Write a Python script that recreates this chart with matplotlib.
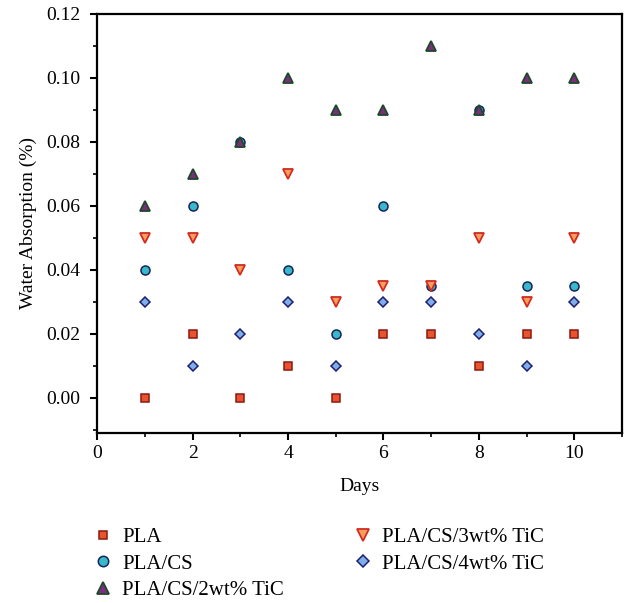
import matplotlib.pyplot as plt
from matplotlib.ticker import MultipleLocator
import numpy as np

plt.rcParams['font.family'] = ['Liberation Serif', 'DejaVu Serif']

# Data
days = [1, 2, 3, 4, 5, 6, 7, 8, 9, 10]
pla = [0.0, 0.02, 0.0, 0.01, 0.0, 0.02, 0.02, 0.01, 0.02, 0.02]
pla_cs = [0.04, 0.06, 0.08, 0.04, 0.02, 0.06, 0.035, 0.09, 0.035, 0.035]
pla_cs_2 = [0.06, 0.07, 0.08, 0.10, 0.09, 0.09, 0.11, 0.09, 0.10, 0.10]
pla_cs_3 = [0.05, 0.05, 0.04, 0.07, 0.03, 0.035, 0.035, 0.05, 0.03, 0.05]
pla_cs_4 = [0.03, 0.01, 0.02, 0.03, 0.01, 0.03, 0.03, 0.02, 0.01, 0.03]

fig = plt.figure(figsize=(6.27, 6.03), dpi=100)
ax = fig.add_axes([0.155, 0.282, 0.837, 0.695])

ax.plot(days, pla, 's', color='#e8552c', mec='#8b1a12', mew=1.1, ms=5.5, label='PLA', ls='none')
ax.plot(days, pla_cs, 'o', color='#3bb8c8', mec='#15245e', mew=1.1, ms=6.5, label='PLA/CS', ls='none')
ax.plot(days, pla_cs_3, 'v', color='#f5a05a', mec='#d42a22', mew=1.3, ms=7.5, label='PLA/CS/3wt% TiC', ls='none')
ax.plot(days, pla_cs_4, 'D', color='#80aee6', mec='#1e1e72', mew=1.1, ms=5.5, label='PLA/CS/4wt% TiC', ls='none')
ax.plot(days, pla_cs_2, '^', color='#7c2d7e', mec='#1c4a28', mew=1.3, ms=7.5, label='PLA/CS/2wt% TiC', ls='none')

ax.set_xlim(0, 11)
ax.set_ylim(-0.011, 0.12)
ax.xaxis.set_major_locator(MultipleLocator(2))
ax.xaxis.set_minor_locator(MultipleLocator(1))
ax.yaxis.set_major_locator(MultipleLocator(0.02))
ax.yaxis.set_minor_locator(MultipleLocator(0.01))
ax.yaxis.set_major_formatter(plt.FormatStrFormatter('%.2f'))
ax.tick_params(which='major', direction='out', length=5, width=1.5, labelsize=14)
ax.tick_params(axis='y', which='major', pad=7)
ax.tick_params(which='minor', direction='out', length=3, width=1.2)
for s in ax.spines.values():
    s.set_linewidth(1.6)

ax.set_xlabel('Days', fontsize=14, labelpad=12)
ax.set_ylabel('Water Absorption (%)', fontsize=14, labelpad=7)

h, l = ax.get_legend_handles_labels()
order = [0, 1, 4, 2, 3]
fig.legend([h[i] for i in order], [l[i] for i in order], loc='upper left',
           bbox_to_anchor=(0.148, 0.125), ncol=2, frameon=False, fontsize=15,
           borderaxespad=0, borderpad=0, handletextpad=0.4, columnspacing=3.3,
           labelspacing=0.33, handlelength=1.0, markerscale=1.15)

fig.savefig('out.png', dpi=100)
